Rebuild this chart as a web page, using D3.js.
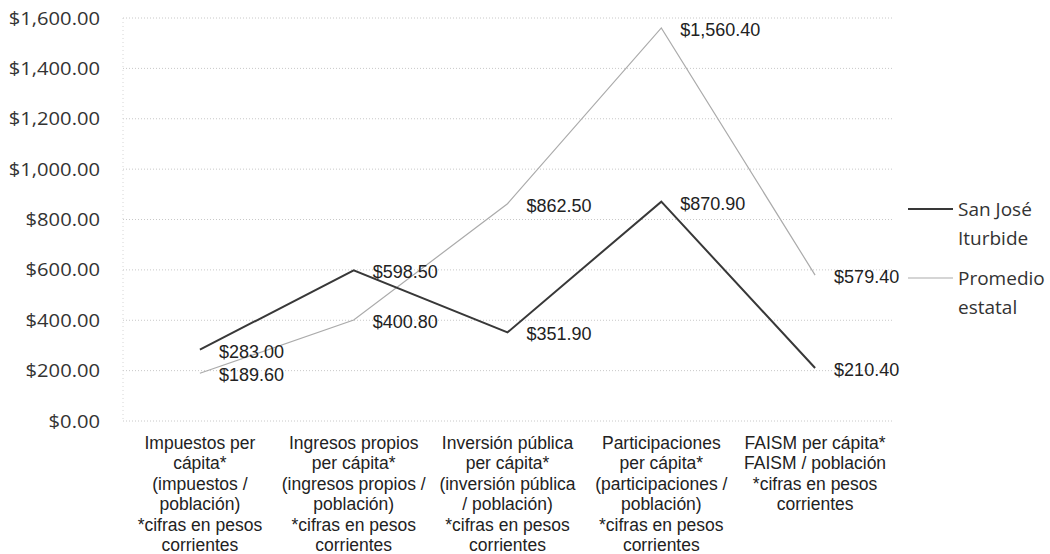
<!DOCTYPE html>
<html>
<head>
<meta charset="utf-8">
<script src="https://cdn.jsdelivr.net/npm/d3@7"></script>
<style>
  body { margin: 0; background: #fff; }
</style>
</head>
<body>
<div id="chart"></div>
<script>
// datos
const categorias = [
    ["Impuestos per", "cápita*", "(impuestos /", "población)", "*cifras en pesos", "corrientes"],
    ["Ingresos propios", "per cápita*", "(ingresos propios /", "población)", "*cifras en pesos", "corrientes"],
    ["Inversión pública", "per cápita*", "(inversión pública", "/ población)", "*cifras en pesos", "corrientes"],
    ["Participaciones", "per cápita*", "(participaciones /", "población)", "*cifras en pesos", "corrientes"],
    ["FAISM per cápita*", "FAISM / población", "*cifras en pesos", "corrientes"]
];
const sanJose = [283.0, 598.5, 351.9, 870.9, 210.4];
const promedio = [189.6, 400.8, 862.5, 1560.4, 579.4];
const yTicks = [0, 200, 400, 600, 800, 1000, 1200, 1400, 1600];
const series = [
    { nombre: ["San José", "Iturbide"], valores: sanJose, color: "#383838", ancho: 2 },
    { nombre: ["Promedio", "estatal"], valores: promedio, color: "#ababab", ancho: 1.2 }
];

const W = 1050, H = 554;
const mLeft = 123, mRight = 892, mTop = 18, mBottom = 421;

const svg = d3.select("#chart").append("svg")
    .attr("width", W)
    .attr("height", H);

const x = d3.scaleBand()
    .domain(d3.range(categorias.length))
    .range([mLeft, mRight])
    .padding(0);

const y = d3.scaleLinear()
    .domain([0, 1600])
    .range([mBottom, mTop]);

const fmt = d3.format("$,.2f");

// rejilla
svg.append("g")
    .selectAll("line")
    .data(yTicks)
    .enter()
    .append("line")
    .attr("x1", mLeft)
    .attr("x2", mRight)
    .attr("y1", d => y(d))
    .attr("y2", d => y(d))
    .attr("stroke", "#c8c8c8")
    .attr("stroke-width", 1)
    .attr("stroke-dasharray", "1,2");

svg.append("line")
    .attr("x1", mLeft).attr("x2", mLeft)
    .attr("y1", mTop).attr("y2", mBottom)
    .attr("stroke", "#d6d6d6")
    .attr("stroke-dasharray", "1,3");

// eje y
svg.append("g")
    .selectAll("text")
    .data(yTicks)
    .enter()
    .append("text")
    .attr("transform", d => `translate(100,${y(d)}) scale(1.12,1)`)
    .attr("text-anchor", "end")
    .attr("dominant-baseline", "central")
    .attr("font-family", "'Open Sans', 'Noto Sans', sans-serif")
    .attr("font-size", "18px")
    .attr("fill", "#333")
    .text(d => fmt(d));

// etiquetas eje x
const xl = svg.append("g")
    .selectAll("text")
    .data(categorias)
    .enter()
    .append("text")
    .attr("x", (d, i) => x(i) + x.bandwidth() / 2)
    .attr("y", 449)
    .attr("text-anchor", "middle")
    .attr("font-family", "'Liberation Sans', Arial, sans-serif")
    .attr("font-size", "17.5px")
    .attr("fill", "#222");
xl.selectAll("tspan")
    .data(d => d)
    .enter()
    .append("tspan")
    .attr("x", function () { return d3.select(this.parentNode).attr("x"); })
    .attr("dy", (d, i) => i === 0 ? 0 : 20.4)
    .text(d => d);

// lineas
const line = d3.line()
    .x((d, i) => x(i) + x.bandwidth() / 2)
    .y(d => y(d));

series.slice().reverse().forEach(s => {
    svg.append("path")
        .datum(s.valores)
        .attr("fill", "none")
        .attr("stroke", s.color)
        .attr("stroke-width", s.ancho)
        .attr("d", line);
});

// etiquetas de datos
series.forEach(s => {
    svg.append("g")
        .selectAll("text")
        .data(s.valores)
        .enter()
        .append("text")
        .attr("x", (d, i) => x(i) + x.bandwidth() / 2 + 19)
        .attr("y", d => y(d) + 2)
        .attr("dominant-baseline", "central")
        .attr("font-family", "'Liberation Sans', Arial, sans-serif")
        .attr("font-size", "18px")
        .attr("fill", "#222")
        .text(d => fmt(d));
});

// leyenda
const legendY = [209, 278];
series.forEach((s, k) => {
    const g = svg.append("g").attr("transform", `translate(908,${legendY[k]})`);
    g.append("line")
        .attr("x1", 0).attr("x2", 45)
        .attr("y1", 0).attr("y2", 0)
        .attr("stroke", s.color)
        .attr("stroke-width", s.ancho);
    g.append("text")
        .selectAll("tspan")
        .data(s.nombre)
        .enter()
        .append("tspan")
        .attr("x", 50)
        .attr("y", (d, i) => i * 29)
        .attr("dominant-baseline", "central")
        .attr("font-family", "'Open Sans', 'Noto Sans', sans-serif")
        .attr("font-size", "19px")
        .attr("fill", "#333")
        .text(d => d);
});
</script>
</body>
</html>
